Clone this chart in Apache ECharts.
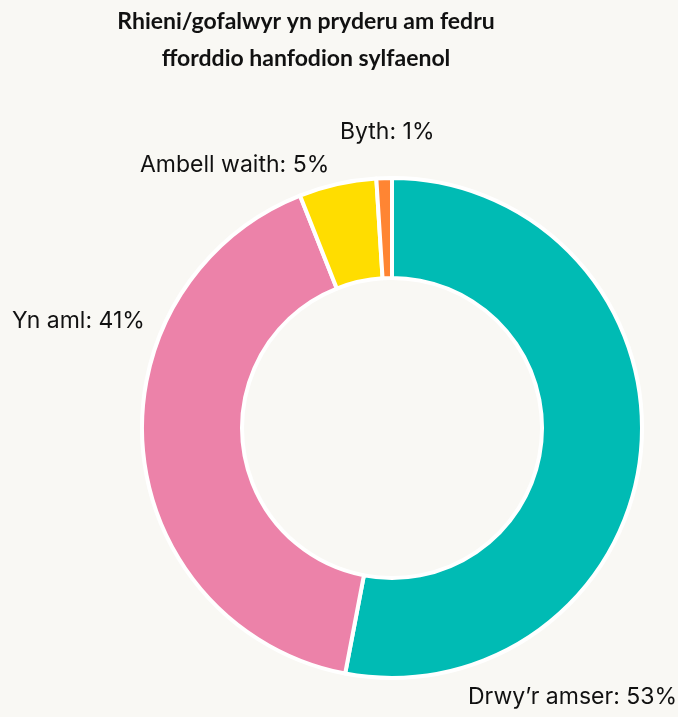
<!DOCTYPE html>
<html>
<head>
<meta charset="utf-8">
<script src="https://cdn.jsdelivr.net/npm/echarts@6/dist/echarts.min.js"></script>
<style>
  html, body { margin: 0; padding: 0; background: #f9f8f4; }
  #chart { width: 678px; height: 717px; }
</style>
</head>
<body>
<div id="chart"></div>
<script>
// data
const categories = ['Drwy’r amser', 'Yn aml', 'Ambell waith', 'Byth']
const values = [53, 41, 5, 1]
const colors = ['#00bbb4', '#ec82a9', '#ffdd00', '#ff8533']

// label anchor points (x, y, align)
const labelSpots = [
  [677, 697, 'right'],
  [12, 321, 'left'],
  [140, 165, 'left'],
  [340, 132, 'left'],
]

let chart = echarts.init(document.getElementById('chart'))

let option = {
  backgroundColor: '#f9f8f4',
  title: {
    text: 'Rhieni/gofalwyr yn pryderu am fedru\nfforddio hanfodion sylfaenol',
    left: 301,
    top: -2,
    textAlign: 'center',
    textStyle: {
      fontFamily: 'Lato',
      fontWeight: 'bold',
      fontSize: 23,
      lineHeight: 37,
      color: '#111',
    },
  },
  series: [
    {
      type: 'pie',
      center: [392, 428],
      radius: [150, 250],
      startAngle: 90,
      clockwise: true,
      avoidLabelOverlap: false,
      itemStyle: {
        borderColor: '#fff',
        borderWidth: 4,
      },
      label: {
        show: true,
        position: 'outside',
        formatter: '{b}: {c}%',
        fontFamily: 'Inter',
        fontSize: 23,
        color: '#111',
      },
      labelLine: { show: false },
      labelLayout: function (params) {
        let s = labelSpots[params.dataIndex]
        return { x: s[0], y: s[1], align: s[2], verticalAlign: 'middle' }
      },
      emphasis: { disabled: true },
      data: categories.map((c, i) => ({
        name: c,
        value: values[i],
        itemStyle: { color: colors[i] },
      })),
    },
  ],
}

chart.setOption(option)
</script>
</body>
</html>
